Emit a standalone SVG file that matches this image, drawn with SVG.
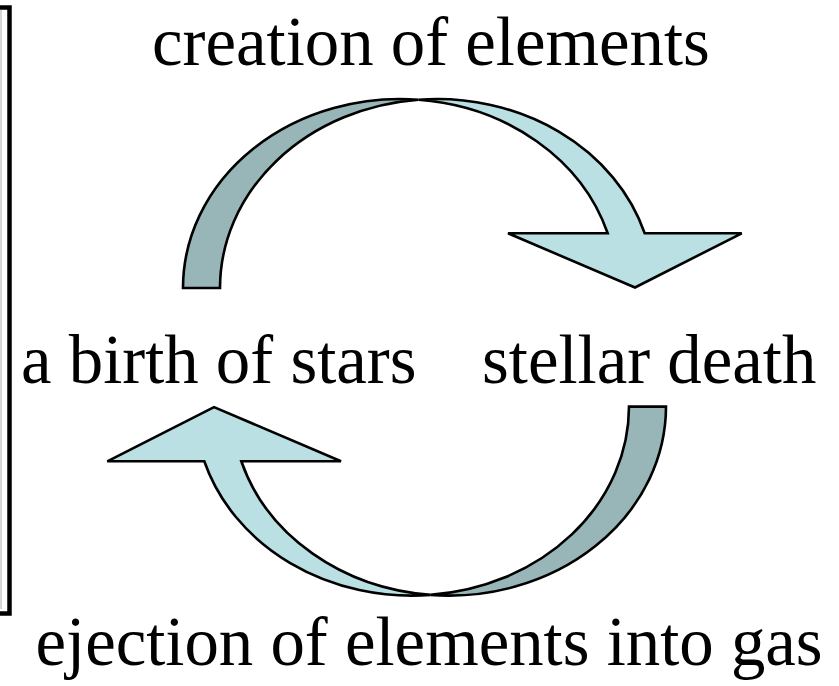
<svg xmlns="http://www.w3.org/2000/svg" width="839" height="686" viewBox="0 0 839 686">
  <style>
    .lbl { font-family: "Liberation Serif", "Times New Roman", serif; font-size: 68.8px; fill: #000; }
    .dark { fill: #98B6B8; stroke: #000; stroke-width: 2.6; stroke-linejoin: miter; }
    .light { fill: #BAE0E3; stroke: #000; stroke-width: 2.6; stroke-linejoin: miter; }
  </style>
  <defs>
    <g id="curvedArrow">
      <path class="dark" d="M183,288 A217,189 0 0 1 418.5,99.7 A217,189 0 0 0 220,288 Z"/>
      <path class="light" d="M418.5,99.7 A217,189 0 0 1 644.7,233.3 L741.7,233.3 L635,287.5 L508,233.3 L607.7,233.3 A217,189 0 0 0 418.5,99.7 Z"/>
    </g>
  </defs>
  <rect width="839" height="686" fill="#fff"/>
  <g id="frame">
    <line x1="1" y1="10" x2="1" y2="609" stroke="#c8c8c8" stroke-width="1.5"/>
    <polyline points="0,7.5 9.5,7.5 9.5,613.5 0,613.5" fill="none" stroke="#000" stroke-width="4.5"/>
  </g>
  <g id="connectors">
    <g id="arrow-top"><use href="#curvedArrow"/></g>
    <g id="arrow-bottom" transform="rotate(180 424.5 347.3)"><use href="#curvedArrow"/></g>
  </g>
  <g id="node-creation"><text class="lbl" x="152" y="65">creation of elements</text></g>
  <g id="node-birth"><text class="lbl" x="21" y="383">a birth of stars</text></g>
  <g id="node-death"><text class="lbl" x="482" y="383">stellar death</text></g>
  <g id="node-ejection"><text class="lbl" x="35.5" y="665">ejection of elements into gas</text></g>
</svg>
